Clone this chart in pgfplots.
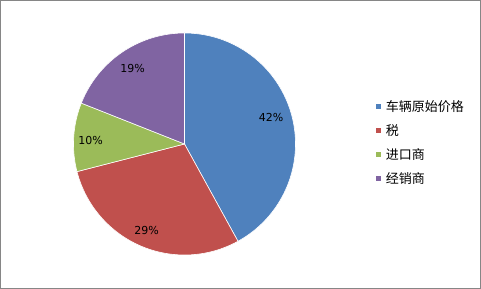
\documentclass[border=0pt]{standalone}
\usepackage{fontspec}
\usepackage{pgfplots}
\pgfplotsset{compat=1.18}
\setmainfont{DejaVu Sans}
\newfontfamily\cjk{Noto Sans CJK SC}
\newfontfamily\dejavu{DejaVu Sans}
\definecolor{pieblue}{HTML}{4F81BD}
\definecolor{piered}{HTML}{C0504D}
\definecolor{piegreen}{HTML}{9BBB59}
\definecolor{piepurple}{HTML}{8064A2}
\definecolor{framegray}{HTML}{868686}
% data (percent)
\def\vA{42}\def\vB{29}\def\vC{10}\def\vD{19}
\pgfmathsetmacro\aA{0}
\pgfmathsetmacro\aB{\vA*3.6}
\pgfmathsetmacro\aC{(\vA+\vB)*3.6}
\pgfmathsetmacro\aD{(\vA+\vB+\vC)*3.6}
\pgfmathsetmacro\aE{(\vA+\vB+\vC+\vD)*3.6}
\def\cx{184.5}\def\cy{145}\def\R{111}
\begin{document}
\begin{tikzpicture}
\begin{axis}[
  scale only axis, width=479.7bp, height=287.7bp,
  xmin=0.65, xmax=480.35, ymin=0.65, ymax=288.35,
  xtick=\empty, ytick=\empty,
  axis line style={draw=framegray, line width=1.3bp},
  clip=false,
  legend cell align=left,
  legend image code/.code={\fill[#1] (0bp,-3bp) rectangle (6bp,3bp);},
  legend style={at={(axis cs:375,190)}, anchor=north west, draw=none, fill=none,
    font=\cjk\fontsize{13bp}{15bp}\selectfont, row sep=9.5bp, column sep=3bp,
    inner sep=0pt, nodes={inner sep=1bp}},
]
\addplot[fill=pieblue, draw=white, line width=0.6bp, domain=\aA:\aB, samples=120, variable=\t]
  ({\cx+\R*sin(\t)}, {\cy+\R*cos(\t)}) -- (axis cs:\cx,\cy) -- cycle;
\addlegendentry{车辆原始价格}
\addplot[fill=piered, draw=white, line width=0.6bp, domain=\aB:\aC, samples=100, variable=\t]
  ({\cx+\R*sin(\t)}, {\cy+\R*cos(\t)}) -- (axis cs:\cx,\cy) -- cycle;
\addlegendentry{税}
\addplot[fill=piegreen, draw=white, line width=0.6bp, domain=\aC:\aD, samples=60, variable=\t]
  ({\cx+\R*sin(\t)}, {\cy+\R*cos(\t)}) -- (axis cs:\cx,\cy) -- cycle;
\addlegendentry{进口商}
\addplot[fill=piepurple, draw=white, line width=0.6bp, domain=\aD:\aE, samples=80, variable=\t]
  ({\cx+\R*sin(\t)}, {\cy+\R*cos(\t)}) -- (axis cs:\cx,\cy) -- cycle;
\addlegendentry{经销商}
\node[font=\dejavu\fontsize{11bp}{13bp}\selectfont] at (axis cs:271.2,171.3) {42\%};
\node[font=\dejavu\fontsize{11bp}{13bp}\selectfont] at (axis cs:146.7,58.3) {29\%};
\node[font=\dejavu\fontsize{11bp}{13bp}\selectfont] at (axis cs:90.7,149) {10\%};
\node[font=\dejavu\fontsize{11bp}{13bp}\selectfont] at (axis cs:132.7,220.7) {19\%};
\end{axis}
\end{tikzpicture}
\end{document}
